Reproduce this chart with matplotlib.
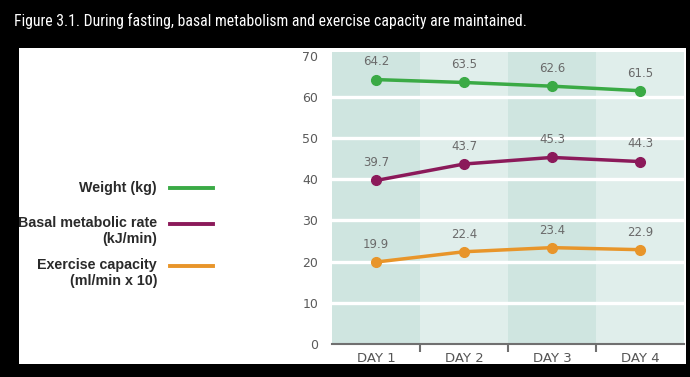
import matplotlib
matplotlib.use("Agg")
import matplotlib.pyplot as plt
from matplotlib.patches import Rectangle
from matplotlib.lines import Line2D

days = ["DAY 1", "DAY 2", "DAY 3", "DAY 4"]
weight = [64.2, 63.5, 62.6, 61.5]
bmr = [39.7, 43.7, 45.3, 44.3]
exercise = [19.9, 22.4, 23.4, 22.9]
series_labels = ["Weight (kg)", "Basal metabolic rate\n(kJ/min)", "Exercise capacity\n(ml/min x 10)"]
yticks = [0, 10, 20, 30, 40, 50, 60, 70]
title = "Figure 3.1. During fasting, basal metabolism and exercise capacity are maintained."

colors = ["#3aaa45", "#8b1a5a", "#e8952a"]
W, H = 690, 377
fig = plt.figure(figsize=(W / 100, H / 100), dpi=100, facecolor="black")

def fx(x):
    return x / W

def fy(y):
    return 1 - y / H

# white panel
fig.patches.append(Rectangle((fx(19), fy(364)), fx(686) - fx(19), fy(48) - fy(364),
                             transform=fig.transFigure, facecolor="white", edgecolor="none", zorder=-5))

fig.text(fx(14), fy(21), title, color="white", fontsize=11.3, family="Roboto Condensed",
         va="center", ha="left")

ax = fig.add_axes([fx(332), fy(344), fx(684) - fx(332), fy(52) - fy(344)])
ax.set_facecolor("none")
ax.set_xlim(-0.5, 3.5)
ax.set_ylim(0, 70.9)

shades = ["#cfe5e0", "#e0eeeb"]
for i in range(len(days)):
    ax.axvspan(i - 0.5, i + 0.5, color=shades[i % 2], zorder=0, lw=0)
for y in yticks[1:-1]:
    ax.axhline(y, color="white", lw=2.4, zorder=1)

for vals, c in zip([weight, bmr, exercise], colors):
    x = list(range(len(vals)))
    ax.plot(x, vals, color=c, lw=2.5, marker="o", ms=7, zorder=3)
    for xi, v in zip(x, vals):
        ax.annotate(f"{v}", (xi, v), xytext=(0, 8), textcoords="offset points",
                    ha="center", va="bottom", fontsize=8.5, color="#6a6a6a", family="DejaVu Sans")

for s in ["top", "right", "left"]:
    ax.spines[s].set_visible(False)
ax.spines["bottom"].set_color("#707070")
ax.spines["bottom"].set_linewidth(1.5)
ax.set_yticks(yticks)
ax.set_yticklabels([str(t) for t in yticks], family="DejaVu Sans", fontsize=9, color="#5a5a5a")
ax.tick_params(axis="y", length=0, pad=10)
ax.set_xticks([0.5, 1.5, 2.5], minor=True)
ax.set_xticks(range(len(days)))
ax.set_xticklabels(days, family="DejaVu Sans", fontsize=9.5, color="#555555")
ax.tick_params(axis="x", which="major", length=0, pad=6)
ax.tick_params(axis="x", which="minor", length=6, width=1.5, color="#707070")

# legend
legend_y = [188, 224, 266]
for lab, c, y in zip(series_labels, colors, legend_y):
    n = lab.count("\n")
    ty = y + (7 if n else 0)
    fig.text(fx(157), fy(ty), lab, ha="right", va="center", fontsize=10.3, family="Liberation Sans",
             fontweight="bold", color="#2a2a2a", linespacing=1.1)
    fig.lines.append(Line2D([fx(170), fx(213)], [fy(y), fy(y)], transform=fig.transFigure,
                            color=c, lw=2.8))

fig.savefig("out.png", dpi=100, facecolor="black")
